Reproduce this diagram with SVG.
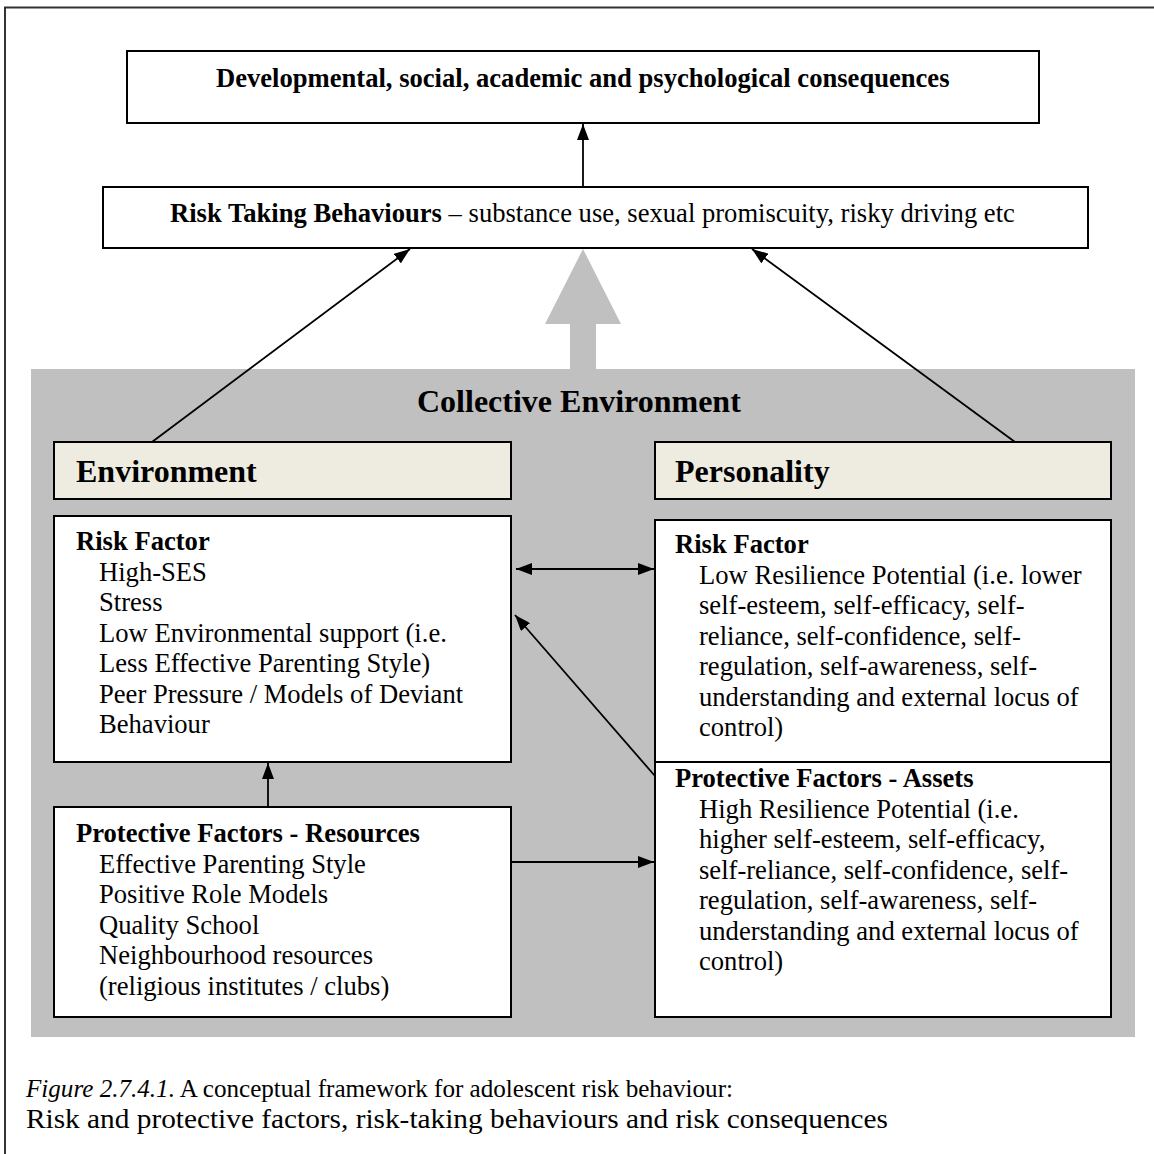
<svg xmlns="http://www.w3.org/2000/svg" width="1154" height="1154" viewBox="0 0 1154 1154">
<defs>
<marker id="ah" viewBox="0 0 16 12" refX="16" refY="6" markerWidth="16" markerHeight="12" markerUnits="userSpaceOnUse" orient="auto-start-reverse">
<path d="M0,0 L16,6 L0,12 z" fill="#000"/>
</marker>
<style>
text{font-family:"Liberation Serif","Times New Roman",serif;fill:#000}
.t{font-size:26.6px}
.b{font-weight:bold}
.h{font-size:32px;font-weight:bold}
.box{fill:#fff;stroke:#000;stroke-width:2}
.head{fill:#EEECE1;stroke:#000;stroke-width:2}
.ln{stroke:#000;stroke-width:1.8;fill:none;marker-end:url(#ah)}
</style>
</defs>
<rect width="1154" height="1154" fill="#fff"/>
<path d="M5,1154 V7.5 H1154" fill="none" stroke="#333" stroke-width="2"/>

<g id="consequences">
<rect class="box" x="127" y="51" width="912" height="72"/>
<text class="t b" x="216" y="87">Developmental, social, academic and psychological consequences</text>
</g>

<g id="risk-taking">
<rect class="box" x="103" y="187" width="985" height="61"/>
<text class="t" x="170" y="222"><tspan class="b">Risk Taking Behaviours</tspan> – substance use, sexual promiscuity, risky driving etc</text>
</g>

<g id="collective-environment">
<rect x="31" y="369" width="1104" height="668" fill="#C0C0C0"/>
<polygon points="583,249 621,324 596,324 596,369 570,369 570,324 545,324" fill="#C0C0C0"/>
<text class="h" x="417" y="412">Collective Environment</text>
</g>

<g id="environment">
<rect class="head" x="54" y="442" width="457" height="57"/>
<text class="h" x="76" y="482">Environment</text>
</g>

<g id="personality">
<rect class="head" x="655" y="442" width="456" height="57"/>
<text class="h" x="675" y="482">Personality</text>
</g>

<g id="env-risk">
<rect class="box" x="54" y="516" width="457" height="246"/>
<text class="t b" x="76" y="550">Risk Factor</text>
<text class="t" x="99" y="580.5">High-SES</text>
<text class="t" x="99" y="611">Stress</text>
<text class="t" x="99" y="641.5">Low Environmental support (i.e.</text>
<text class="t" x="99" y="672">Less Effective Parenting Style)</text>
<text class="t" x="99" y="702.5">Peer Pressure / Models of Deviant</text>
<text class="t" x="99" y="733">Behaviour</text>
</g>

<g id="env-protective">
<rect class="box" x="54" y="807" width="457" height="210"/>
<text class="t b" x="76" y="842">Protective Factors - Resources</text>
<text class="t" x="99" y="872.5">Effective Parenting Style</text>
<text class="t" x="99" y="903">Positive Role Models</text>
<text class="t" x="99" y="933.5">Quality School</text>
<text class="t" x="99" y="964">Neighbourhood resources</text>
<text class="t" x="99" y="994.5">(religious institutes / clubs)</text>
</g>

<g id="pers-risk">
<rect class="box" x="655" y="520" width="456" height="242"/>
<text class="t b" x="675" y="553">Risk Factor</text>
<text class="t" x="699" y="583.5">Low Resilience Potential (i.e. lower</text>
<text class="t" x="699" y="614">self-esteem, self-efficacy, self-</text>
<text class="t" x="699" y="644.5">reliance, self-confidence, self-</text>
<text class="t" x="699" y="675">regulation, self-awareness, self-</text>
<text class="t" x="699" y="705.5">understanding and external locus of</text>
<text class="t" x="699" y="736">control)</text>
</g>

<g id="pers-protective">
<rect class="box" x="655" y="762" width="456" height="255"/>
<text class="t b" x="675" y="787">Protective Factors - Assets</text>
<text class="t" x="699" y="817.5">High Resilience Potential (i.e.</text>
<text class="t" x="699" y="848">higher self-esteem, self-efficacy,</text>
<text class="t" x="699" y="878.5">self-reliance, self-confidence, self-</text>
<text class="t" x="699" y="909">regulation, self-awareness, self-</text>
<text class="t" x="699" y="939.5">understanding and external locus of</text>
<text class="t" x="699" y="970">control)</text>
</g>

<g id="connectors">
<line class="ln" x1="583" y1="187" x2="583" y2="124"/>
<line class="ln" x1="152" y1="442" x2="410" y2="249"/>
<line class="ln" x1="1015" y1="442" x2="752" y2="249"/>
<line class="ln" x1="516" y1="569" x2="654" y2="569" marker-start="url(#ah)"/>
<line class="ln" x1="655" y1="776" x2="515" y2="615"/>
<line class="ln" x1="268" y1="807" x2="268" y2="763"/>
<line class="ln" x1="511" y1="862" x2="654" y2="862"/>
</g>

<g id="caption">
<text x="26" y="1097" font-size="25.5" textLength="707" lengthAdjust="spacingAndGlyphs"><tspan font-style="italic">Figure 2.7.4.1.</tspan> A conceptual framework for adolescent risk behaviour:</text>
<text x="26" y="1128" font-size="28" textLength="862" lengthAdjust="spacingAndGlyphs">Risk and protective factors, risk-taking behaviours and risk consequences</text>
</g>
</svg>
